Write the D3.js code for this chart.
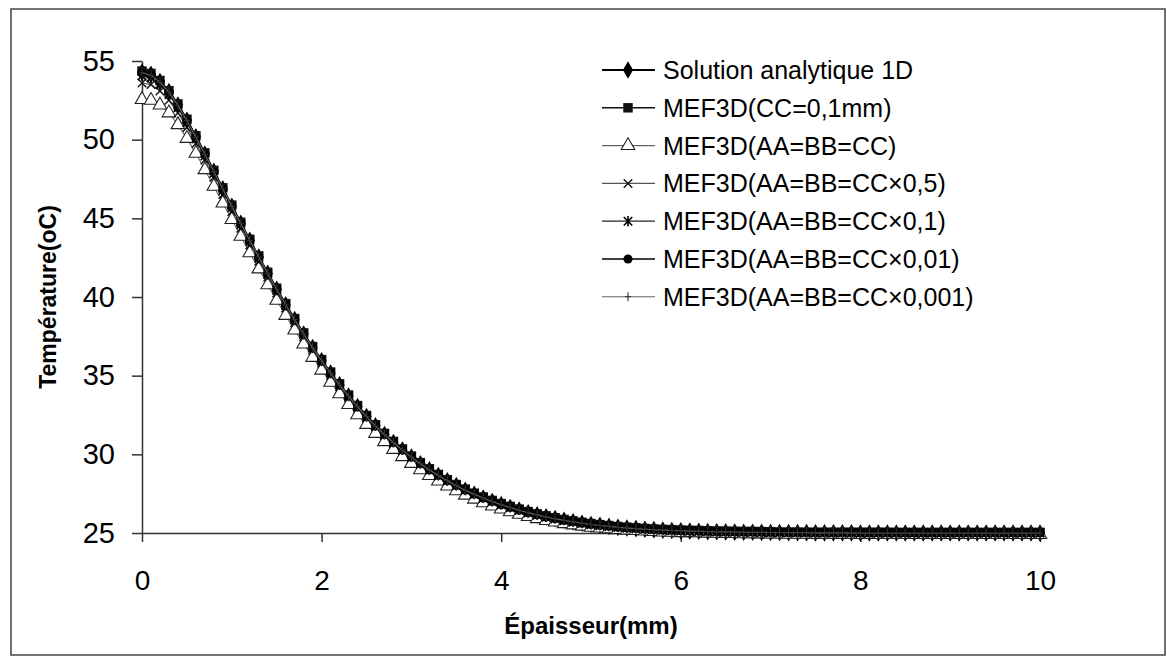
<!DOCTYPE html>
<html><head><meta charset="utf-8">
<script src="https://cdn.jsdelivr.net/npm/d3@7"></script>
<style>body{margin:0;background:#fff}svg{display:block}text{font-family:"Liberation Sans",Arial,sans-serif;fill:#000}</style>
</head><body><svg id="c" width="1167" height="660"></svg>
<script>
// ---------- DATA ----------
const thickness = [0,0.1,0.2,0.3,0.4,0.5,0.6,0.7,0.8,0.9,
1,1.1,1.2,1.3,1.4,1.5,1.6,1.7,1.8,1.9,
2,2.1,2.2,2.3,2.4,2.5,2.6,2.7,2.8,2.9,
3,3.1,3.2,3.3,3.4,3.5,3.6,3.7,3.8,3.9,
4,4.1,4.2,4.3,4.4,4.5,4.6,4.7,4.8,4.9,
5,5.1,5.2,5.3,5.4,5.5,5.6,5.7,5.8,5.9,
6,6.1,6.2,6.3,6.4,6.5,6.6,6.7,6.8,6.9,
7,7.1,7.2,7.3,7.4,7.5,7.6,7.7,7.8,7.9,
8,8.1,8.2,8.3,8.4,8.5,8.6,8.7,8.8,8.9,
9,9.1,9.2,9.3,9.4,9.5,9.6,9.7,9.8,9.9,
10];
const xTicks = [0,2,4,6,8,10];
const yTicks = [25,30,35,40,45,50,55];
const seriesNames = ["Solution analytique 1D","MEF3D(CC=0,1mm)","MEF3D(AA=BB=CC)","MEF3D(AA=BB=CC\u00d70,5)","MEF3D(AA=BB=CC\u00d70,1)","MEF3D(AA=BB=CC\u00d70,01)","MEF3D(AA=BB=CC\u00d70,001)"];

const analytic1D = [54.30,54.15,53.70,53.05,52.20,51.23,50.18,49.09,47.98,46.87,
45.77,44.68,43.60,42.54,41.50,40.49,39.51,38.56,37.65,36.78,
35.95,35.16,34.41,33.70,33.03,32.40,31.81,31.26,30.75,30.27,
29.82,29.40,29.01,28.65,28.32,28.01,27.72,27.46,27.22,27.00,
26.80,26.62,26.45,26.29,26.15,26.02,25.91,25.80,25.71,25.62,
25.54,25.48,25.42,25.36,25.32,25.28,25.24,25.21,25.18,25.16,
25.14,25.12,25.11,25.09,25.08,25.07,25.06,25.05,25.05,25.04,
25.03,25.03,25.02,25.02,25.02,25.01,25.01,25.01,25.01,25.01,
25.00,25.00,25.00,25.00,25.00,25.00,25.00,25.00,25.00,25.00,
25.00,25.00,25.00,25.00,25.00,25.00,25.00,25.00,25.00,25.00,
25.00];
const mefCC01 = [54.36,54.21,53.76,53.11,52.27,51.30,50.25,49.16,48.05,46.94,
45.84,44.75,43.67,42.61,41.57,40.56,39.58,38.63,37.72,36.85,
36.02,35.23,34.48,33.77,33.10,32.47,31.88,31.33,30.82,30.34,
29.89,29.47,29.08,28.72,28.39,28.08,27.79,27.53,27.29,27.07,
26.87,26.69,26.52,26.36,26.22,26.09,25.97,25.86,25.77,25.68,
25.60,25.53,25.47,25.41,25.37,25.33,25.29,25.26,25.23,25.21,
25.19,25.17,25.16,25.14,25.13,25.12,25.11,25.10,25.10,25.09,
25.08,25.06,25.06,25.06,25.05,25.05,25.05,25.05,25.05,25.05,
25.05,25.05,25.05,25.05,25.04,25.04,25.04,25.04,25.04,25.04,
25.04,25.04,25.04,25.04,25.04,25.04,25.04,25.04,25.04,25.04,
25.04];
const mefEqual = [52.55,52.50,52.20,51.70,50.95,50.08,49.13,48.09,47.03,45.97,
44.92,43.86,42.81,41.78,40.77,39.79,38.83,37.90,37.01,36.16,
35.35,34.58,33.85,33.16,32.51,31.90,31.33,30.80,30.31,29.85,
29.42,29.02,28.65,28.30,27.98,27.68,27.40,27.15,26.92,26.71,
26.52,26.35,26.19,26.04,25.91,25.79,25.69,25.59,25.51,25.43,
25.36,25.31,25.26,25.21,25.18,25.15,25.12,25.09,25.06,25.04,
25.02,25.02,25.01,24.99,24.98,24.97,24.96,24.95,24.95,24.94,
24.93,24.93,24.92,24.92,24.92,24.91,24.91,24.91,24.91,24.91,
24.90,24.90,24.90,24.90,24.90,24.90,24.90,24.90,24.90,24.90,
24.90,24.90,24.90,24.90,24.90,24.90,24.90,24.90,24.90,24.90,
24.90];
const mefHalf = [53.60,53.50,53.10,52.50,51.70,50.78,49.76,48.70,47.61,46.52,
45.44,44.37,43.31,42.27,41.25,40.26,39.30,38.37,37.47,36.62,
35.81,35.03,34.29,33.59,32.93,32.31,31.73,31.19,30.69,30.22,
29.78,29.37,28.98,28.63,28.30,28.00,27.71,27.45,27.21,26.99,
26.79,26.60,26.43,26.27,26.13,26.00,25.89,25.78,25.69,25.60,
25.52,25.46,25.40,25.35,25.30,25.26,25.23,25.20,25.17,25.15,
25.13,25.11,25.10,25.08,25.07,25.06,25.05,25.04,25.04,25.03,
25.02,25.02,25.01,25.01,25.01,25.00,25.00,25.00,25.00,25.00,
24.99,24.99,24.99,24.99,24.99,24.99,24.99,24.99,24.99,24.99,
24.99,24.99,24.99,24.99,24.99,24.99,24.99,24.99,24.99,24.99,
24.99];
const mefTenth = [54.05,53.93,53.50,52.87,52.04,51.08,50.04,48.96,47.86,46.76,
45.67,44.59,43.52,42.47,41.44,40.44,39.47,38.53,37.62,36.76,
35.94,35.15,34.41,33.70,33.03,32.40,31.81,31.27,30.76,30.28,
29.83,29.41,29.02,28.66,28.33,28.02,27.73,27.47,27.23,27.01,
26.81,26.63,26.46,26.30,26.16,26.03,25.92,25.81,25.72,25.63,
25.55,25.49,25.43,25.37,25.33,25.29,25.25,25.22,25.19,25.17,
25.15,25.13,25.12,25.10,25.09,25.08,25.07,25.06,25.06,25.05,
25.04,25.04,25.03,25.03,25.03,25.02,25.02,25.02,25.02,25.02,
25.01,25.01,25.01,25.01,25.01,25.01,25.01,25.01,25.01,25.01,
25.01,25.01,25.01,25.01,25.01,25.01,25.01,25.01,25.01,25.01,
25.01];
const mefHundredth = [54.22,54.08,53.64,53.00,52.16,51.20,50.15,49.07,47.96,46.85,
45.76,44.67,43.59,42.53,41.50,40.49,39.51,38.56,37.65,36.78,
35.95,35.16,34.41,33.70,33.03,32.40,31.81,31.26,30.75,30.27,
29.82,29.40,29.01,28.65,28.32,28.01,27.72,27.46,27.22,27.00,
26.80,26.62,26.45,26.29,26.15,26.02,25.91,25.80,25.71,25.62,
25.54,25.48,25.42,25.36,25.32,25.28,25.24,25.21,25.18,25.16,
25.14,25.12,25.11,25.09,25.08,25.07,25.06,25.05,25.05,25.04,
25.03,25.03,25.02,25.02,25.02,25.01,25.01,25.01,25.01,25.01,
25.00,25.00,25.00,25.00,25.00,25.00,25.00,25.00,25.00,25.00,
25.00,25.00,25.00,25.00,25.00,25.00,25.00,25.00,25.00,25.00,
25.00];
const mefThousandth = [54.25,54.10,53.66,53.02,52.18,51.21,50.16,49.08,47.97,46.86,
45.76,44.67,43.59,42.54,41.50,40.49,39.51,38.56,37.65,36.78,
35.95,35.16,34.41,33.70,33.03,32.40,31.81,31.26,30.75,30.27,
29.82,29.40,29.01,28.65,28.32,28.01,27.72,27.46,27.22,27.00,
26.80,26.62,26.45,26.29,26.15,26.02,25.91,25.80,25.71,25.62,
25.54,25.48,25.42,25.36,25.32,25.28,25.24,25.21,25.18,25.16,
25.14,25.12,25.11,25.09,25.08,25.07,25.06,25.05,25.05,25.04,
25.03,25.03,25.02,25.02,25.02,25.01,25.01,25.01,25.01,25.01,
24.98,24.98,24.98,24.98,24.98,24.98,24.98,24.98,24.98,24.98,
24.98,24.98,24.98,24.98,24.98,24.98,24.98,24.98,24.98,24.98,
24.98];

// ---------- CHART ----------
const svg = d3.select("#c");
const W = 1167, H = 660;
const plot = {left:142, right:1040, top:61, bottom:533};

svg.append("rect").attr("x",0).attr("y",0).attr("width",W).attr("height",H).attr("fill","#fff");
svg.append("rect").attr("x",11).attr("y",9).attr("width",1154).attr("height",646)
  .attr("fill","none").attr("stroke","#444").attr("stroke-width",1.5);

const x = d3.scaleLinear().domain([0,10]).range([plot.left, plot.right]);
const y = d3.scaleLinear().domain([25,55]).range([plot.bottom, plot.top]);

// custom stroke symbols
const symTimes = {draw(c,s){const r=Math.sqrt(s)/2; c.moveTo(-r,-r);c.lineTo(r,r);c.moveTo(r,-r);c.lineTo(-r,r);}};
const symPlus = {draw(c,s){const r=Math.sqrt(s)/2; c.moveTo(0,-r);c.lineTo(0,r);c.moveTo(-r*0.7,0);c.lineTo(r*0.7,0);}};
const symAst = {draw(c,s){const r=Math.sqrt(s)/2; c.moveTo(-r,-r);c.lineTo(r,r);c.moveTo(r,-r);c.lineTo(-r,r);c.moveTo(0,-r*1.2);c.lineTo(0,r*1.2);}};

const series = [
  {name:seriesNames[0], values:analytic1D, line:"#000", lw:1.8, sym:d3.symbolDiamond, size:90, fill:"#000", stroke:"none", sw:0},
  {name:seriesNames[1], values:mefCC01, line:"#111", lw:1.4, sym:d3.symbolSquare, size:90, fill:"#111", stroke:"none", sw:0},
  {name:seriesNames[2], values:mefEqual, line:"#666", lw:1.1, sym:d3.symbolTriangle, size:80, fill:"#fff", stroke:"#222", sw:1.1},
  {name:seriesNames[3], values:mefHalf, line:"#555", lw:1.1, sym:symTimes, size:72, fill:"none", stroke:"#111", sw:1.4},
  {name:seriesNames[4], values:mefTenth, line:"#222", lw:1.3, sym:symAst, size:72, fill:"none", stroke:"#000", sw:1.6},
  {name:seriesNames[5], values:mefHundredth, line:"#000", lw:1.6, sym:d3.symbolCircle, size:65, fill:"#000", stroke:"none", sw:0},
  {name:seriesNames[6], values:mefThousandth, line:"#666", lw:1.1, sym:symPlus, size:80, fill:"none", stroke:"#333", sw:1.1}
];

// axes
const yAxis = d3.axisLeft(y).tickValues(yTicks).tickSize(10).tickSizeOuter(0).tickPadding(17);
const gy = svg.append("g").attr("transform",`translate(${plot.left},0)`).call(yAxis);
gy.selectAll("text").style("font-size","29px");
gy.selectAll("line,path").attr("stroke","#333").attr("stroke-width",1.5);

const xAxis = d3.axisBottom(x).tickValues(xTicks).tickSize(9).tickSizeOuter(0).tickPadding(28);
const gx = svg.append("g").attr("transform",`translate(0,${plot.bottom})`).call(xAxis);
gx.selectAll("text").style("font-size","28px");
gx.selectAll("line,path").attr("stroke","#333").attr("stroke-width",1.5);

// axis titles
svg.append("text").attr("transform",`translate(48,${(plot.top+plot.bottom)/2}) rotate(-90)`)
  .attr("text-anchor","middle").attr("dy","0.35em").style("font-size","23px").style("font-weight","bold")
  .text("Température(oC)");
svg.append("text").attr("x",(plot.left+plot.right)/2).attr("y",634)
  .attr("text-anchor","middle").style("font-size","24px").style("font-weight","bold")
  .text("Épaisseur(mm)");

// lines and markers
const lineGen = d3.line().x((d,i)=>x(thickness[i])).y(d=>y(d));
series.forEach(s=>{
  svg.append("path").datum(s.values).attr("d",lineGen).attr("fill","none")
    .attr("stroke",s.line).attr("stroke-width",s.lw);
  svg.append("g").selectAll("path").data(s.values).join("path")
    .attr("transform",(d,i)=>`translate(${x(thickness[i])},${y(d)})`)
    .attr("d",d3.symbol(s.sym,s.size)())
    .attr("fill",s.fill).attr("stroke",s.stroke).attr("stroke-width",s.sw);
});

// legend
const lg = svg.append("g");
series.forEach((s,i)=>{
  const ly = 70 + i*37.8;
  lg.append("line").attr("x1",602).attr("x2",655).attr("y1",ly).attr("y2",ly)
    .attr("stroke",s.line).attr("stroke-width",s.lw);
  lg.append("path").attr("transform",`translate(628,${ly})`).attr("d",d3.symbol(s.sym,s.size)())
    .attr("fill",s.fill).attr("stroke",s.stroke).attr("stroke-width",s.sw);
  lg.append("text").attr("x",663).attr("y",ly).attr("dy","0.36em").style("font-size","25px").text(s.name);
});
</script>
</body></html>
